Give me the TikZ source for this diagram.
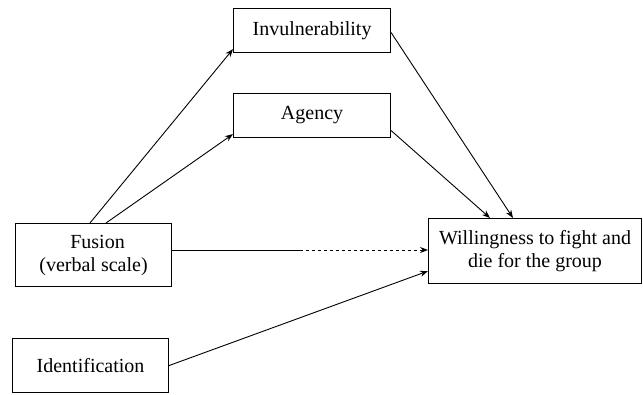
\documentclass[tikz,border=0pt]{standalone}
\usepackage{fontspec}
\setmainfont{Liberation Serif}
\usetikzlibrary{arrows.meta}
\begin{document}
\begin{tikzpicture}[x=1pt,y=-1pt,
  box/.style={draw,line width=1.1pt,inner sep=0pt,anchor=north west,font=\fontsize{20}{23}\selectfont,align=center},
  arr/.style={line width=0.9pt,-{Stealth[length=8pt,width=6pt]}}]
\useasboundingbox (0,0) rectangle (643,394);
\node[box,minimum width=157pt,minimum height=44pt] (inv) at (233,8) {Invulnerability};
\node[box,minimum width=157pt,minimum height=44pt] (agc) at (233,93) {Agency};
\node[box,minimum width=156pt,minimum height=63pt] (fus) at (15,223) {\hspace*{8pt}Fusion\\(verbal scale)};
\node[box,minimum width=156pt,minimum height=54pt] (idf) at (12,338) {Identification};
\node[box,minimum width=213pt,minimum height=65pt] (wil) at (428,218) {Willingness to fight and\\die for the group};
\coordinate (mid) at (300,250);
\draw[arr] ([xshift=75pt]fus.north west) -- ([yshift=4pt]inv.south west);
\draw[arr] ([xshift=91pt]fus.north west) -- ([yshift=4pt]agc.south west);
\draw[arr] ([yshift=-2pt]inv.east) -- ([xshift=85pt]wil.north west);
\draw[arr] ([yshift=-15pt]agc.east) -- ([xshift=62pt]wil.north west);
\draw[line width=0.9pt] (fus.east |- mid) -- (mid);
\draw[arr,dashed] (mid) -- (wil.west |- mid);
\draw[arr] (idf.east) -- ([yshift=-20pt]wil.west);
\end{tikzpicture}
\end{document}
